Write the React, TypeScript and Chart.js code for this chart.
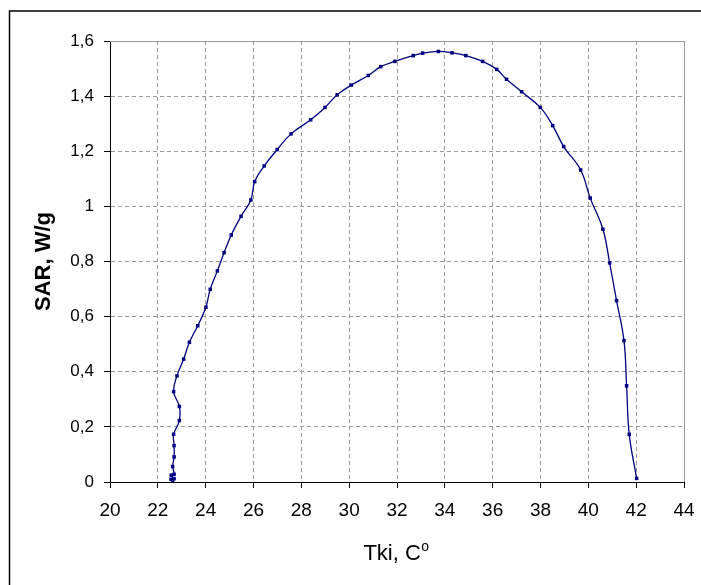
import React, { useEffect, useRef } from "react";
import { Chart, registerables } from "chart.js";

Chart.register(...registerables);

// Temperature Tki, °C (x) and SAR, W/g (y), in drawing order
const tkiValues = [
  22.62, 22.55, 22.68, 22.56, 22.68, 22.62, 22.68, 22.68, 22.66, 22.9, 22.9,
  22.66, 22.8, 23.08, 23.32, 23.67, 24.01, 24.19, 24.49, 24.77, 25.07, 25.48,
  25.89, 26.05, 26.45, 26.99, 27.57, 28.39, 28.99, 29.5, 30.09, 30.8, 31.32,
  31.91, 32.68, 33.07, 33.73, 34.3, 34.88, 35.58, 36.17, 36.58, 37.21, 37.99,
  38.51, 38.97, 39.68, 40.08, 40.61, 40.89, 41.18, 41.49, 41.6, 41.71, 42.02,
];
const sarValues = [
  0.0, 0.01, 0.012, 0.025, 0.028, 0.056, 0.091, 0.132, 0.173, 0.223, 0.274,
  0.328, 0.385, 0.446, 0.507, 0.567, 0.634, 0.699, 0.766, 0.832, 0.896, 0.964,
  1.023, 1.09, 1.147, 1.206, 1.263, 1.314, 1.359, 1.405, 1.44, 1.475, 1.507,
  1.526, 1.547, 1.556, 1.562, 1.557, 1.547, 1.526, 1.497, 1.461, 1.416, 1.359,
  1.293, 1.217, 1.132, 1.03, 0.917, 0.795, 0.658, 0.513, 0.349, 0.173, 0.013,
];

const xTickLabels = ["20", "22", "24", "26", "28", "30", "32", "34", "36", "38", "40", "42", "44"];
const yTickLabels = ["0", "0,2", "0,4", "0,6", "0,8", "1", "1,2", "1,4", "1,6"];

const xTitle = "Tki, C";
const xTitleSup = "o";
const yTitle = "SAR, W/g";

const FONT = "'Liberation Sans', Arial, Helvetica, sans-serif";

export default function App() {
  const ref = useRef<HTMLCanvasElement>(null);

  useEffect(() => {
    document.body.style.margin = "0";
    const canvas = ref.current;
    if (!canvas) return;

    const decor = {
      id: "decor",
      beforeDatasetsDraw(chart: any) {
        const { ctx, chartArea: a } = chart;
        ctx.save();
        ctx.strokeStyle = "#9a9a9a";
        ctx.lineWidth = 1;
        ctx.beginPath();
        ctx.moveTo(a.left, Math.round(a.top) + 0.5);
        ctx.lineTo(Math.round(a.right) + 0.5, Math.round(a.top) + 0.5);
        ctx.lineTo(Math.round(a.right) + 0.5, a.bottom);
        ctx.stroke();
        ctx.restore();
      },
      afterDraw(chart: any) {
        const { ctx, chartArea: a } = chart;
        ctx.save();
        // outer frame (cropped at right and bottom)
        ctx.strokeStyle = "#000";
        ctx.lineWidth = 1.5;
        ctx.beginPath();
        ctx.moveTo(9.5, 585);
        ctx.lineTo(9.5, 11);
        ctx.lineTo(701, 11);
        ctx.stroke();
        // x axis title with superscript
        ctx.fillStyle = "#000";
        ctx.textBaseline = "alphabetic";
        ctx.font = `22px ${FONT}`;
        const w1 = ctx.measureText(xTitle).width;
        ctx.font = `14px ${FONT}`;
        const w2 = ctx.measureText(xTitleSup).width;
        const cx = (a.left + a.right) / 2 - 1;
        const x0 = cx - (w1 + w2) / 2;
        ctx.font = `22px ${FONT}`;
        ctx.fillText(xTitle, x0, 560);
        ctx.font = `14px ${FONT}`;
        ctx.fillText(xTitleSup, x0 + w1 + 0.5, 551);
        ctx.restore();
      },
    };

    const points = tkiValues.map((x, i) => ({ x, y: sarValues[i] }));

    const chart = new Chart(canvas, {
      type: "scatter",
      data: {
        datasets: [
          {
            data: points,
            showLine: true,
            borderColor: "#000080",
            backgroundColor: "#000080",
            borderWidth: 1.3,
            tension: 0.4,
            pointStyle: "rect",
            pointRadius: 2.5,
            pointBorderWidth: 0,
            pointHoverRadius: 2.5,
          },
        ],
      },
      options: {
        responsive: false,
        animation: false,
        devicePixelRatio: 1,
        layout: { padding: { left: 0, right: 17, top: 41, bottom: 0 } },
        plugins: {
          legend: { display: false },
          tooltip: { enabled: false },
          title: { display: false },
        },
        scales: {
          x: {
            type: "linear",
            min: 20,
            max: 44,
            ticks: {
              stepSize: 2,
              padding: 11,
              color: "#000",
              font: { family: FONT, size: 19 },
              callback: (v: any) => xTickLabels[Math.round((Number(v) - 20) / 2)] ?? "",
              maxRotation: 0,
              autoSkip: false,
            },
            grid: {
              color: "#9a9a9a",
              lineWidth: 1,
              tickLength: 6,
              tickColor: "#000",
              tickWidth: 1,
            },
            border: { display: true, color: "#000", width: 1, dash: [4, 3] },
            title: { display: false },
            afterFit: (s: any) => {
              s.height = 103;
              s.paddingLeft = 0;
              s.paddingRight = 0;
            },
          },
          y: {
            type: "linear",
            min: 0,
            max: 1.6,
            ticks: {
              stepSize: 0.2,
              padding: 10,
              color: "#000",
              font: { family: FONT, size: 17 },
              callback: (v: any) => yTickLabels[Math.round(Number(v) / 0.2)] ?? "",
              autoSkip: false,
            },
            grid: {
              color: "#9a9a9a",
              lineWidth: 1,
              tickLength: 6,
              tickColor: "#000",
              tickWidth: 1,
            },
            border: { display: true, color: "#000", width: 1, dash: [4, 3] },
            title: {
              display: true,
              text: yTitle,
              color: "#000",
              font: { family: FONT, size: 22, weight: "bold" },
              padding: { top: 31, bottom: 0 },
            },
            afterFit: (s: any) => {
              s.width = 110;
              s.paddingTop = 0;
              s.paddingBottom = 0;
            },
          },
        },
      },
      plugins: [decor],
    } as any);

    return () => chart.destroy();
  }, []);

  return (
    <div style={{ width: 701, height: 585 }}>
      <canvas ref={ref} width={701} height={585} style={{ display: "block" }} />
    </div>
  );
}
